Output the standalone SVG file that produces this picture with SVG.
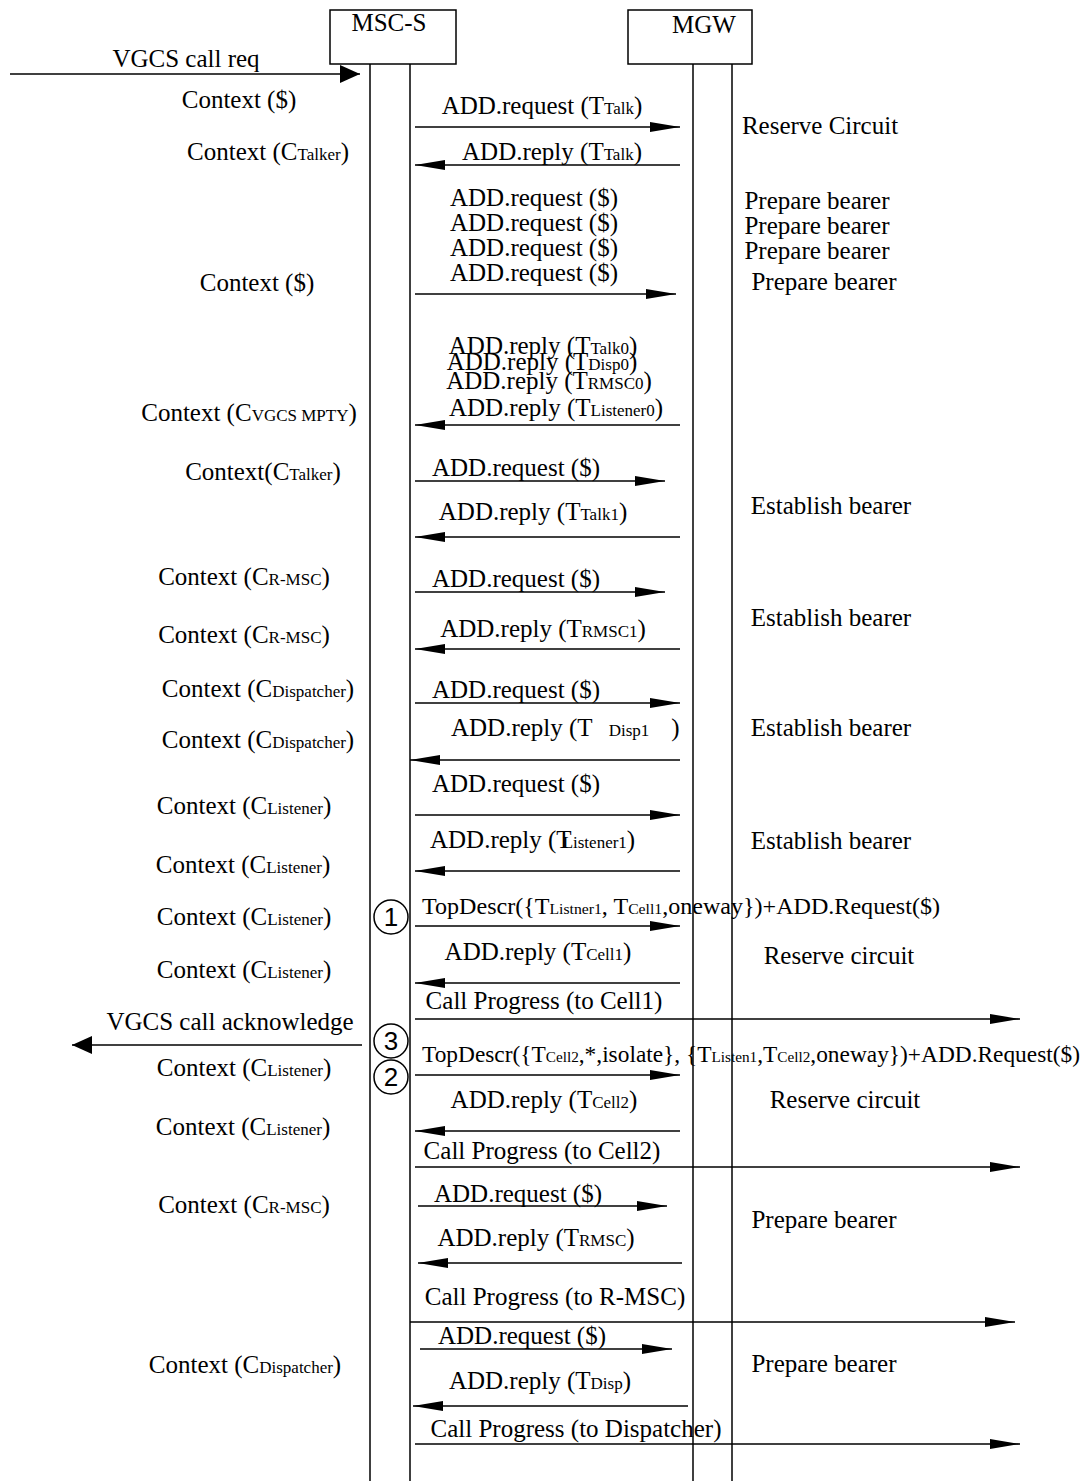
<svg xmlns="http://www.w3.org/2000/svg" width="1083" height="1481" viewBox="0 0 1083 1481">
<style>
text{font-family:"Liberation Serif","Times New Roman",serif;font-size:25px;fill:#000}
.m{text-anchor:middle}
.s{font-size:17px}
.td{font-size:23px}
.td .s{font-size:15px}
.ln{stroke:#000;stroke-width:1.5;fill:none}
.ar{stroke:#000;stroke-width:1.5;fill:none;marker-end:url(#ah)}
.fa{stroke:#000;stroke-width:1.5;fill:none;marker-end:url(#fh)}
.num{font-family:"Liberation Sans",Arial,sans-serif;font-size:26px;text-anchor:middle}
</style>
<defs>
<marker id="ah" markerUnits="userSpaceOnUse" markerWidth="30" markerHeight="10" refX="30" refY="5" orient="auto"><path d="M0,0 L30,5 L0,10 z" fill="#000"/></marker>
<marker id="fh" markerUnits="userSpaceOnUse" markerWidth="20" markerHeight="18" refX="20" refY="9" orient="auto"><path d="M0,0 L20,9 L0,18 z" fill="#000"/></marker>
</defs>
<rect width="1083" height="1481" fill="#fff"/>
<g id="msc-s">
<rect x="330" y="10" width="126" height="54" class="ln"/>
<text class="m" x="389" y="31">MSC-S</text>
<line x1="370" y1="64" x2="370" y2="1481" class="ln"/>
<line x1="410" y1="64" x2="410" y2="1481" class="ln"/>
</g>
<g id="mgw">
<rect x="628" y="10" width="124" height="54" class="ln"/>
<text class="m" x="704" y="33">MGW</text>
<line x1="693" y1="64" x2="693" y2="1481" class="ln"/>
<line x1="732" y1="64" x2="732" y2="1481" class="ln"/>
</g>
<g id="markers">
<circle cx="391" cy="917" r="17" class="ln" fill="#fff"/>
<text class="num" x="391" y="926">1</text>
<circle cx="391" cy="1041" r="17" class="ln" fill="#fff"/>
<text class="num" x="391" y="1050">3</text>
<circle cx="391" cy="1077" r="17" class="ln" fill="#fff"/>
<text class="num" x="391" y="1086">2</text>
</g>
<g id="connectors">
<line x1="10" y1="74" x2="360" y2="74" class="fa"/>
<line x1="415" y1="127" x2="680" y2="127" class="ar"/>
<line x1="680" y1="165" x2="415" y2="165" class="ar"/>
<line x1="415" y1="294" x2="676" y2="294" class="ar"/>
<line x1="680" y1="425" x2="415" y2="425" class="ar"/>
<line x1="415" y1="481" x2="665" y2="481" class="ar"/>
<line x1="680" y1="537" x2="415" y2="537" class="ar"/>
<line x1="415" y1="592" x2="665" y2="592" class="ar"/>
<line x1="680" y1="649" x2="415" y2="649" class="ar"/>
<line x1="415" y1="703" x2="680" y2="703" class="ar"/>
<line x1="680" y1="760" x2="410" y2="760" class="ar"/>
<line x1="415" y1="815" x2="680" y2="815" class="ar"/>
<line x1="680" y1="871" x2="415" y2="871" class="ar"/>
<line x1="415" y1="926" x2="680" y2="926" class="ar"/>
<line x1="680" y1="983" x2="415" y2="983" class="ar"/>
<line x1="415" y1="1019" x2="1020" y2="1019" class="ar"/>
<line x1="362" y1="1045" x2="72" y2="1045" class="fa"/>
<line x1="415" y1="1075" x2="680" y2="1075" class="ar"/>
<line x1="680" y1="1131" x2="415" y2="1131" class="ar"/>
<line x1="415" y1="1167" x2="1020" y2="1167" class="ar"/>
<line x1="418" y1="1206" x2="667" y2="1206" class="ar"/>
<line x1="682" y1="1263" x2="418" y2="1263" class="ar"/>
<line x1="410" y1="1322" x2="1015" y2="1322" class="ar"/>
<line x1="420" y1="1349" x2="672" y2="1349" class="ar"/>
<line x1="688" y1="1406" x2="413" y2="1406" class="ar"/>
<line x1="415" y1="1444" x2="1020" y2="1444" class="ar"/>
</g>
<g id="left-labels">
<text class="m" x="186" y="67">VGCS call req</text>
<text class="m" x="239" y="108">Context ($)</text>
<text class="m" x="268" y="160">Context (C<tspan class="s">Talker</tspan>)</text>
<text class="m" x="257" y="291">Context ($)</text>
<text class="m" x="249" y="421">Context (C<tspan class="s">VGCS MPTY</tspan>)</text>
<text class="m" x="263" y="480">Context(C<tspan class="s">Talker</tspan>)</text>
<text class="m" x="244" y="585">Context (C<tspan class="s">R-MSC</tspan>)</text>
<text class="m" x="244" y="643">Context (C<tspan class="s">R-MSC</tspan>)</text>
<text class="m" x="258" y="697">Context (C<tspan class="s">Dispatcher</tspan>)</text>
<text class="m" x="258" y="748">Context (C<tspan class="s">Dispatcher</tspan>)</text>
<text class="m" x="244" y="814">Context (C<tspan class="s">Listener</tspan>)</text>
<text class="m" x="243" y="873">Context (C<tspan class="s">Listener</tspan>)</text>
<text class="m" x="244" y="925">Context (C<tspan class="s">Listener</tspan>)</text>
<text class="m" x="244" y="978">Context (C<tspan class="s">Listener</tspan>)</text>
<text class="m" x="230" y="1030">VGCS call acknowledge</text>
<text class="m" x="244" y="1076">Context (C<tspan class="s">Listener</tspan>)</text>
<text class="m" x="243" y="1135">Context (C<tspan class="s">Listener</tspan>)</text>
<text class="m" x="244" y="1213">Context (C<tspan class="s">R-MSC</tspan>)</text>
<text class="m" x="245" y="1373">Context (C<tspan class="s">Dispatcher</tspan>)</text>
</g>
<g id="message-labels">
<text class="m" x="542" y="114">ADD.request (T<tspan class="s">Talk</tspan>)</text>
<text class="m" x="552" y="160">ADD.reply (T<tspan class="s">Talk</tspan>)</text>
<text class="m" x="534" y="206">ADD.request ($)</text>
<text class="m" x="534" y="231">ADD.request ($)</text>
<text class="m" x="534" y="256">ADD.request ($)</text>
<text class="m" x="534" y="281">ADD.request ($)</text>
<text class="m" x="543" y="354">ADD.reply (T<tspan class="s">Talk0</tspan>)</text>
<text class="m" x="542" y="370">ADD.reply (T<tspan class="s">Disp0</tspan>)</text>
<text class="m" x="549" y="389">ADD.reply (T<tspan class="s">RMSC0</tspan>)</text>
<text class="m" x="556" y="416">ADD.reply (T<tspan class="s">Listener0</tspan>)</text>
<text class="m" x="516" y="476">ADD.request ($)</text>
<text class="m" x="533" y="520">ADD.reply (T<tspan class="s">Talk1</tspan>)</text>
<text class="m" x="516" y="587">ADD.request ($)</text>
<text class="m" x="543" y="637">ADD.reply (T<tspan class="s">RMSC1</tspan>)</text>
<text class="m" x="516" y="698">ADD.request ($)</text>
<text x="451" y="736">ADD.reply (T<tspan class="s" dx="16">Disp1</tspan><tspan dx="22">)</tspan></text>
<text class="m" x="516" y="792">ADD.request ($)</text>
<text x="430" y="848">ADD.reply (T<tspan class="s" dx="-9">Listener1</tspan>)</text>
<text class="td" x="422" y="914" textLength="518" lengthAdjust="spacingAndGlyphs">TopDescr({T<tspan class="s">Listner1</tspan>, T<tspan class="s">Cell1</tspan>,oneway})+ADD.Request($)</text>
<text class="m" x="538" y="960">ADD.reply (T<tspan class="s">Cell1</tspan>)</text>
<text class="m" x="544" y="1009">Call Progress (to Cell1)</text>
<text class="td" x="422" y="1062" textLength="658" lengthAdjust="spacingAndGlyphs">TopDescr({T<tspan class="s">Cell2</tspan>,*,isolate}, {T<tspan class="s">Listen1</tspan>,T<tspan class="s">Cell2</tspan>,oneway})+ADD.Request($)</text>
<text class="m" x="544" y="1108">ADD.reply (T<tspan class="s">Cell2</tspan>)</text>
<text class="m" x="542" y="1159">Call Progress (to Cell2)</text>
<text class="m" x="518" y="1202">ADD.request ($)</text>
<text class="m" x="536" y="1246">ADD.reply (T<tspan class="s">RMSC</tspan>)</text>
<text class="m" x="555" y="1305">Call Progress (to R-MSC)</text>
<text class="m" x="522" y="1344">ADD.request ($)</text>
<text class="m" x="540" y="1389">ADD.reply (T<tspan class="s">Disp</tspan>)</text>
<text class="m" x="576" y="1437">Call Progress (to Dispatcher)</text>
</g>
<g id="right-labels">
<text class="m" x="820" y="134">Reserve Circuit</text>
<text class="m" x="817" y="209">Prepare bearer</text>
<text class="m" x="817" y="234">Prepare bearer</text>
<text class="m" x="817" y="259">Prepare bearer</text>
<text class="m" x="824" y="290">Prepare bearer</text>
<text class="m" x="831" y="514">Establish bearer</text>
<text class="m" x="831" y="626">Establish bearer</text>
<text class="m" x="831" y="736">Establish bearer</text>
<text class="m" x="831" y="849">Establish bearer</text>
<text class="m" x="839" y="964">Reserve circuit</text>
<text class="m" x="845" y="1108">Reserve circuit</text>
<text class="m" x="824" y="1228">Prepare bearer</text>
<text class="m" x="824" y="1372">Prepare bearer</text>
</g>
</svg>
